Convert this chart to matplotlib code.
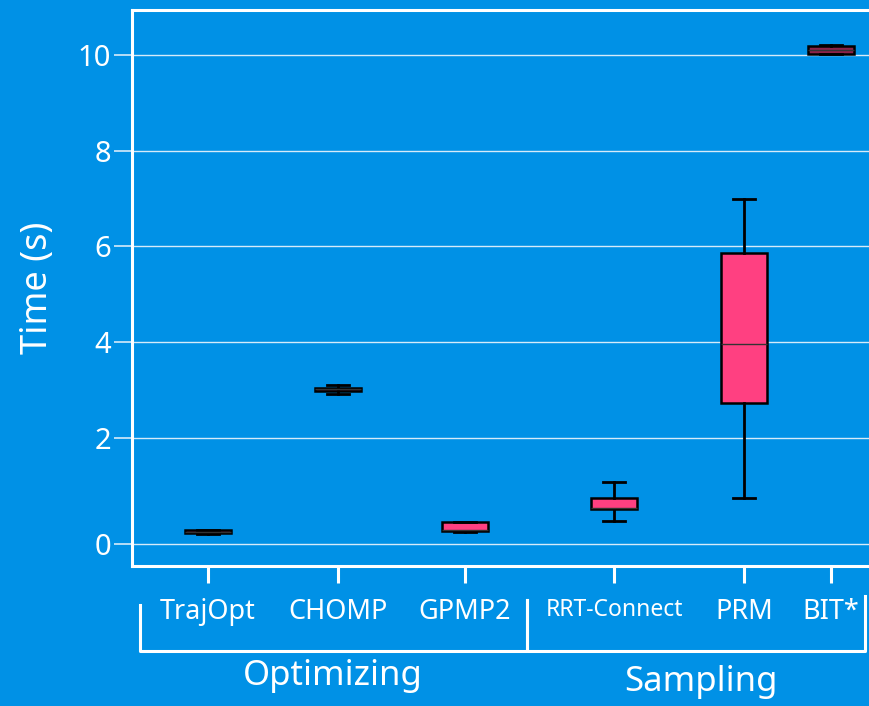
import numpy as np
import matplotlib.pyplot as plt
from matplotlib.transforms import blended_transform_factory

plt.rcParams['font.family'] = ['Noto Sans', 'DejaVu Sans']

# planners and their timing statistics (seconds)
planners = ["TrajOpt", "CHOMP", "GPMP2", "RRT-Connect", "PRM", "BIT*"]
positions = [1.0, 2.0, 2.977, 4.123, 5.123, 5.792]
whislo = [0.19, 2.90, 0.22, 0.43, 0.86, 10.02]
q1 = [0.20, 2.98, 0.24, 0.65, 2.73, 10.03]
med = [0.23, 3.01, 0.27, 0.68, 3.96, 10.10]
q3 = [0.26, 3.04, 0.41, 0.87, 5.85, 10.18]
whishi = [0.27, 3.10, 0.42, 1.16, 6.98, 10.20]
face_colors = ["#8c2349", "#5e1a33", "#ff4081", "#ff4081", "#ff4081", "#8c2349"]

groups = ["Optimizing", "Sampling"]
group_edges = [(0.477, 3.454), (3.454, 6.054)]

BG = "#0091e6"
K = 107 / 96  # the 0..2 band is drawn taller than the rest


def fwd(y):
    y = np.asarray(y, dtype=float)
    return np.where(y < 2, y * K, y + 2 * (K - 1))


def inv(t):
    t = np.asarray(t, dtype=float)
    return np.where(t < 2 * K, t / K, t - 2 * (K - 1))


fig = plt.figure(figsize=(8.7, 7.06), dpi=100, facecolor=BG)
ax = fig.add_axes([132 / 870, 140 / 706, 740 / 870, 556 / 706], facecolor=BG)
ax.set_yscale("function", functions=(fwd, inv))

stats = [
    dict(whislo=a, q1=b, med=c, q3=d, whishi=e, fliers=[])
    for a, b, c, d, e in zip(whislo, q1, med, q3, whishi)
]
bp = ax.bxp(
    stats, positions=positions, widths=0.354, patch_artist=True,
    boxprops=dict(edgecolor="black", linewidth=1.8),
    whiskerprops=dict(color="black", linewidth=2.0),
    capprops=dict(color="black", linewidth=2.0),
    medianprops=dict(color="#333333", linewidth=1.0),
    capwidths=0.17, zorder=3,
)
for patch, c in zip(bp["boxes"], face_colors):
    patch.set_facecolor(c)

ax.set_xlim(0.415, 6.107)
ax.set_ylim(-0.41, 10.94)
ax.set_yticks([0, 2, 4, 6, 8, 10])
ax.yaxis.grid(True, color="#d6ebfa", linewidth=1.0)
ax.set_axisbelow(True)

ax.set_xticks(positions)
ax.set_xticklabels(planners)
for lbl in ax.get_xticklabels():
    lbl.set_fontsize(16.5 if lbl.get_text() == "RRT-Connect" else 19.5)
    lbl.set_color("white")
ax.tick_params(axis="x", length=12, width=2.2, color="white", pad=11)
ax.tick_params(axis="y", length=13, width=1.2, color="#d6ebfa", labelcolor="white",
               labelsize=21, pad=2)

for side in ["left", "top", "bottom"]:
    ax.spines[side].set_color("white")
    ax.spines[side].set_linewidth(2.2)
ax.spines["right"].set_visible(False)

ax.set_ylabel("Time (s)", color="white", fontsize=26, labelpad=16)

# group brackets under the tick labels
tr = blended_transform_factory(ax.transData, ax.transAxes)
left_tops = [-0.070, -0.061]
right_tops = [-0.061, -0.054]
label_y = [-0.198, -0.209]
label_x = [1.962, 4.79]
for name, (x0, x1), lt, rt, lx, ly in zip(groups, group_edges, left_tops, right_tops,
                                          label_x, label_y):
    ax.plot([x0, x0, x1, x1], [lt, -0.153, -0.153, rt], color="white",
            linewidth=2.2, transform=tr, clip_on=False)
    ax.text(lx, ly, name, color="white", fontsize=25, ha="center",
            va="center", transform=tr)

fig.savefig("out.png", dpi=100, facecolor=BG)
